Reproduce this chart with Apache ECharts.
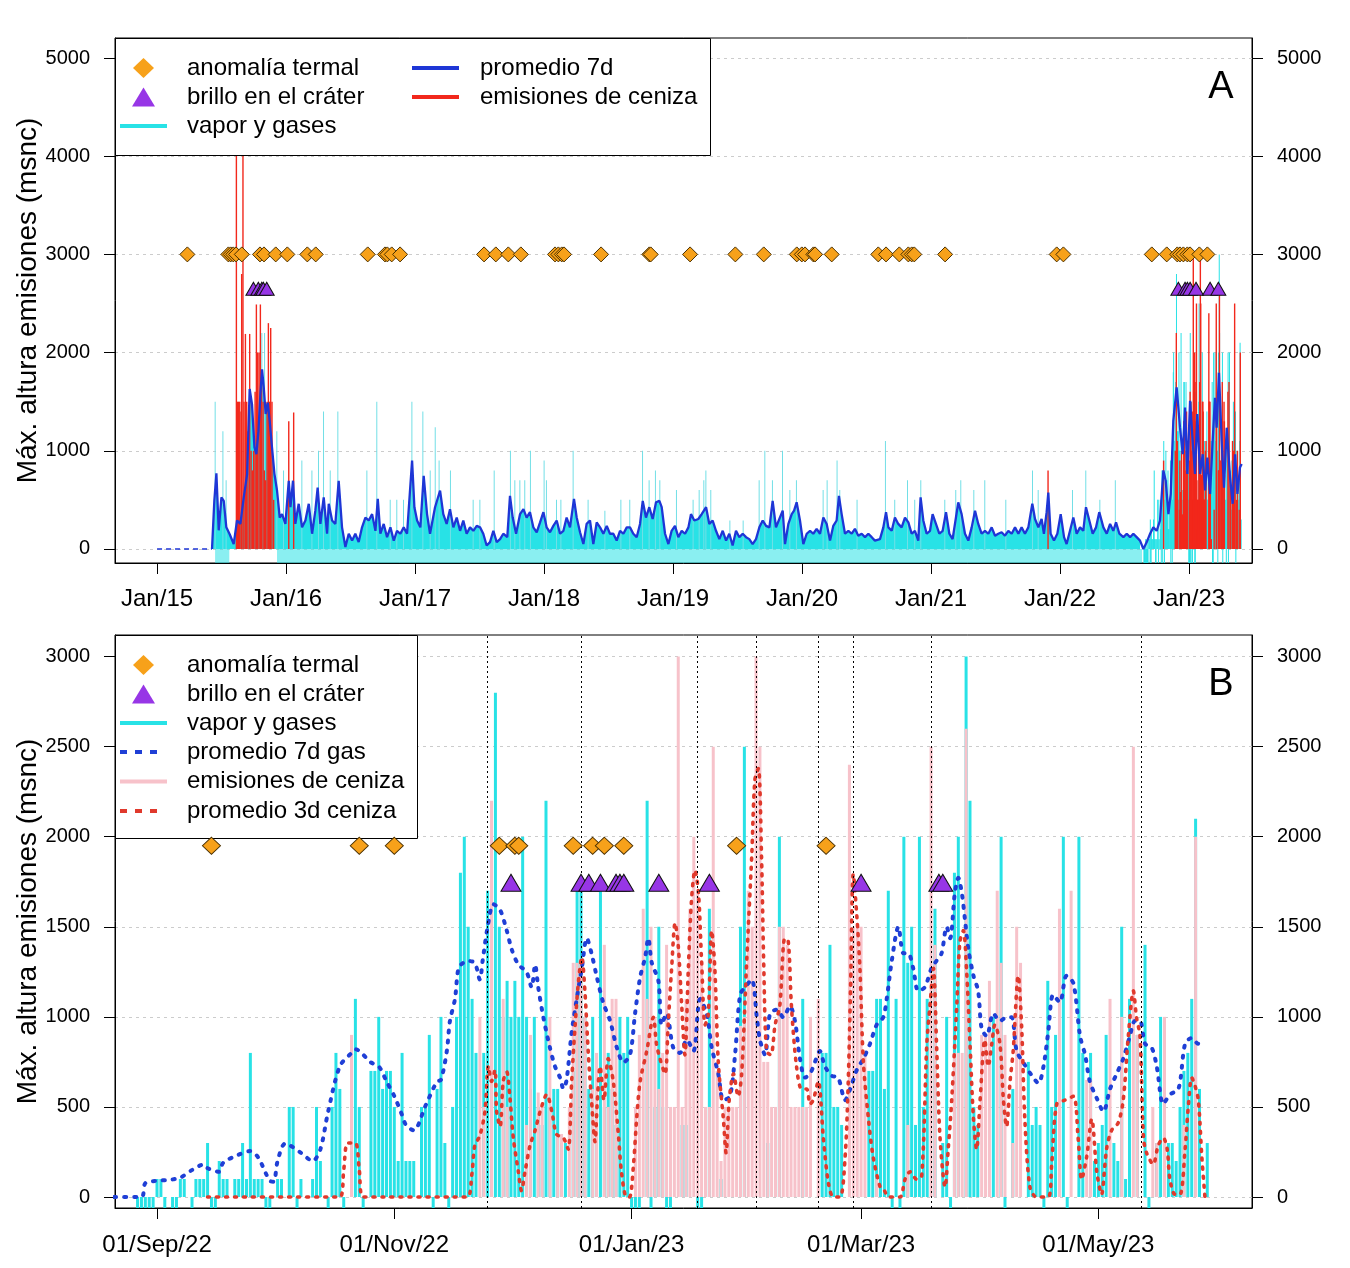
<!DOCTYPE html>
<html><head><meta charset="utf-8">
<script src="https://cdn.jsdelivr.net/npm/echarts@6/dist/echarts.min.js"></script>
<style>html,body{margin:0;padding:0;background:#fff}#c{width:1350px;height:1268px}</style>
</head><body><div id="c"></div>
<script>
// ================= Panel A data (x = decimal year) =================
const yearTicksA = [2015,2016,2017,2018,2019,2020,2021,2022,2023];
const yTicksA = [0,1000,2000,3000,4000,5000];
const quietA = [[2015.0,0],[2015.426,0]];
const avgA = [
[2015.426,0],[2015.444,490],[2015.460,770],[2015.478,190],[2015.499,525],[2015.517,490],[2015.537,220],[2015.563,150],[2015.594,50],[2015.620,290],[2015.646,255],[2015.672,525],[2015.698,760],[2015.718,1630],[2015.736,1475],[2015.755,1035],[2015.770,965],[2015.786,1200],[2015.801,1575],[2015.814,1830],[2015.827,1645],[2015.842,1375],[2015.858,1490],[2015.873,1305],[2015.891,1035],[2015.910,765],[2015.930,595],[2015.951,320],[2015.969,355],[2015.995,255],
[2016.021,695],[2016.034,425],[2016.054,695],[2016.072,255],[2016.098,460],[2016.124,220],[2016.150,290],[2016.176,460],[2016.202,155],[2016.227,390],[2016.245,625],[2016.266,255],[2016.292,525],[2016.318,155],[2016.331,460],[2016.357,290],[2016.382,255],[2016.408,695],[2016.434,220],[2016.460,20],[2016.486,155],[2016.512,85],[2016.537,155],[2016.563,70],[2016.589,220],[2016.615,320],[2016.641,290],[2016.667,355],[2016.693,185],[2016.711,510],[2016.731,155],[2016.757,255],[2016.783,120],[2016.809,220],[2016.835,85],[2016.860,185],[2016.886,155],[2016.912,220],[2016.938,155],[2016.959,560],[2016.977,900],[2016.995,425],
[2017.016,290],[2017.041,220],[2017.067,745],[2017.093,355],[2017.116,155],[2017.155,425],[2017.194,595],[2017.219,355],[2017.245,255],[2017.271,405],[2017.297,220],[2017.323,320],[2017.349,185],[2017.374,290],[2017.400,155],[2017.426,220],[2017.452,185],[2017.478,235],[2017.504,220],[2017.529,155],[2017.555,35],[2017.581,70],[2017.607,185],[2017.633,70],[2017.659,100],[2017.684,155],[2017.715,120],[2017.736,540],[2017.757,320],[2017.783,155],[2017.814,355],[2017.840,405],[2017.865,320],[2017.891,375],[2017.917,220],[2017.943,170],[2017.969,270],[2017.995,375],
[2018.020,220],[2018.046,170],[2018.072,235],[2018.098,290],[2018.124,155],[2018.150,185],[2018.175,320],[2018.201,220],[2018.232,510],[2018.253,320],[2018.279,170],[2018.305,50],[2018.330,255],[2018.356,290],[2018.382,50],[2018.408,270],[2018.434,220],[2018.460,155],[2018.486,235],[2018.511,155],[2018.537,155],[2018.563,85],[2018.589,185],[2018.615,155],[2018.641,220],[2018.666,220],[2018.692,155],[2018.718,120],[2018.744,255],[2018.765,490],[2018.790,320],[2018.816,425],[2018.842,305],[2018.868,475],[2018.894,490],[2018.912,425],[2018.938,155],[2018.964,50],[2018.989,185],
[2019.015,235],[2019.041,120],[2019.067,185],[2019.093,155],[2019.119,220],[2019.139,355],[2019.165,290],[2019.196,305],[2019.222,355],[2019.256,425],[2019.281,255],[2019.307,290],[2019.333,185],[2019.359,100],[2019.385,185],[2019.411,85],[2019.436,155],[2019.462,35],[2019.488,185],[2019.514,120],[2019.540,155],[2019.566,120],[2019.591,100],[2019.617,50],[2019.643,100],[2019.669,220],[2019.695,290],[2019.721,235],[2019.747,220],[2019.772,490],[2019.798,220],[2019.824,305],[2019.850,390],[2019.868,50],[2019.894,255],[2019.920,355],[2019.938,390],[2019.958,475],[2019.984,290],
[2020.010,50],[2020.036,155],[2020.062,185],[2020.087,155],[2020.113,205],[2020.139,155],[2020.165,320],[2020.191,255],[2020.217,85],[2020.242,235],[2020.268,290],[2020.286,540],[2020.307,355],[2020.333,155],[2020.359,185],[2020.385,155],[2020.410,205],[2020.436,135],[2020.462,155],[2020.488,120],[2020.514,155],[2020.540,120],[2020.565,85],[2020.604,100],[2020.630,220],[2020.651,375],[2020.669,220],[2020.695,185],[2020.720,320],[2020.746,255],[2020.772,220],[2020.798,320],[2020.824,270],[2020.850,155],[2020.875,185],[2020.901,85],[2020.919,525],[2020.940,290],[2020.966,155],[2020.992,185],
[2021.012,355],[2021.038,255],[2021.064,155],[2021.090,185],[2021.116,375],[2021.142,155],[2021.167,100],[2021.193,320],[2021.211,475],[2021.237,355],[2021.263,155],[2021.289,85],[2021.315,220],[2021.341,390],[2021.366,255],[2021.392,155],[2021.418,185],[2021.444,155],[2021.470,220],[2021.496,135],[2021.521,155],[2021.547,170],[2021.573,135],[2021.599,185],[2021.625,155],[2021.651,220],[2021.677,155],[2021.702,220],[2021.728,155],[2021.754,220],[2021.785,460],[2021.806,305],[2021.832,220],[2021.857,305],[2021.875,155],[2021.896,375],[2021.909,575],[2021.927,155],[2021.953,85],[2021.979,155],
[2022.005,355],[2022.031,120],[2022.051,50],[2022.077,185],[2022.103,320],[2022.129,155],[2022.155,220],[2022.180,185],[2022.201,425],[2022.227,290],[2022.253,155],[2022.279,220],[2022.304,375],[2022.336,220],[2022.362,155],[2022.388,255],[2022.413,185],[2022.434,270],[2022.460,155],[2022.491,120],[2022.517,155],[2022.543,120],[2022.568,155],[2022.594,120],[2022.620,85],[2022.646,0],[2022.672,70],[2022.698,155],[2022.723,220],[2022.749,185],[2022.775,290],[2022.801,800],[2022.819,695],[2022.840,355],[2022.858,560],[2022.878,1305],[2022.904,1645],[2022.930,1235],[2022.951,965],[2022.969,1440],[2022.987,765],
[2023.008,1510],[2023.028,1100],[2023.046,765],[2023.064,1375],[2023.085,765],[2023.106,965],[2023.124,595],[2023.142,930],[2023.163,560],[2023.183,1100],[2023.201,1540],[2023.214,1235],[2023.232,1795],[2023.253,1100],[2023.271,625],[2023.292,1235],[2023.318,730],[2023.338,460],[2023.357,965],[2023.375,560],[2023.395,830],[2023.408,865]
];
const gasSpikesA = [
[2015.452,1500],[2015.512,1200],[2015.537,700],[2015.814,2200],[2015.835,2200],[2015.930,1200],[2015.982,800],[2016.124,900],[2016.202,800],[2016.253,1000],[2016.292,1400],[2016.344,800],[2016.403,1400],[2016.628,800],[2016.705,1500],[2016.809,500],[2016.860,500],[2016.912,500],[2016.977,1500],[2017.062,1400],[2017.119,800],[2017.158,1240],[2017.188,900],[2017.276,800],[2017.452,500],[2017.504,500],[2017.615,800],[2017.741,1000],[2017.775,700],[2017.814,700],[2017.852,700],[2017.896,1000],[2018.002,900],[2018.020,700],[2018.098,500],[2018.132,500],[2018.227,1000],[2018.343,500],[2018.473,390],[2018.597,500],[2018.666,500],[2018.765,1000],[2018.816,700],[2018.865,800],[2018.899,700],[2019.028,600],[2019.157,500],[2019.204,600],[2019.240,700],[2019.256,800],[2019.294,600],[2019.442,290],[2019.545,290],[2019.669,700],[2019.713,1000],[2019.772,700],[2019.850,1000],[2019.907,600],[2019.958,700],[2020.165,600],[2020.196,700],[2020.273,900],[2020.294,600],[2020.428,500],[2020.648,1100],[2020.720,500],[2020.819,700],[2020.875,500],[2020.922,700],[2021.108,500],[2021.193,600],[2021.232,700],[2021.333,600],[2021.418,700],[2021.581,500],[2021.788,800],[2021.832,600],[2022.098,600],[2022.201,800],[2022.310,500],[2022.430,700]
];
const ashA = [
[2015.615,4600],[2015.625,1500],[2015.633,1500],[2015.641,1500],[2015.651,1400],[2015.656,2800],[2015.666,4600],[2015.674,1500],[2015.685,2190],[2015.695,1500],[2015.705,1200],[2015.718,2190],[2015.729,1000],[2015.739,800],[2015.749,1000],[2015.760,1600],[2015.770,2490],[2015.780,2000],[2015.791,2000],[2015.801,2490],[2015.811,1800],[2015.822,1500],[2015.832,800],[2015.842,700],[2015.853,1500],[2015.863,2300],[2015.873,1500],[2015.881,2250],[2015.891,1500],[2015.904,500],[2016.021,1300],[2016.059,1390],[2021.907,800]
];
const gapBandsA = [[2015.45,2015.56],[2015.93,2022.636]];
const thermalA = [2015.235,2015.553,2015.571,2015.591,2015.612,2015.657,2015.798,2015.829,2015.920,2016.010,2016.165,2016.230,2016.633,2016.767,2016.785,2016.819,2016.884,2017.535,2017.626,2017.723,2017.820,2018.085,2018.111,2018.137,2018.155,2018.442,2018.816,2018.827,2019.132,2019.483,2019.703,2019.959,2019.998,2020.023,2020.088,2020.101,2020.230,2020.591,2020.651,2020.754,2020.824,2020.850,2020.870,2021.109,2021.974,2022.026,2022.711,2022.827,2022.909,2022.930,2022.956,2022.987,2023.008,2023.080,2023.142];
const glowA = [2015.747,2015.785,2015.812,2015.824,2015.850,2022.917,2022.969,2022.987,2023.008,2023.054,2023.163,2023.227];

// ================= Panel B data (x = days since 01/Sep/22) =================
const monthTicksB = [0,61,122,181,242];
const monthLabelsB = ['01/Sep/22','01/Nov/22','01/Jan/23','01/Mar/23','01/May/23'];
const yTicksB = [0,500,1000,1500,2000,2500,3000];
const firstDayB = -11;   // 21/Aug/22; -200 = no observation
const gasB = [
0,0,0,0,0,0,-200,-200,-200,-200,
-200,100,100,-200,0,-200,-200,100,100,0,
-200,100,100,100,300,-200,-200,200,100,100,
0,100,100,300,100,800,100,100,100,-200,
-200,0,100,100,0,500,500,-200,100,0,
0,100,500,200,0,-200,500,800,600,-200,
0,0,1100,500,-200,0,700,700,1000,600,
700,700,500,200,800,200,200,200,0,500,
500,900,-200,600,1000,300,-200,500,1000,1800,
2000,1500,1100,800,0,800,1700,1000,2800,1500,
1000,1200,1000,1200,1000,2000,1000,600,1000,500,
400,2200,500,600,600,300,300,0,700,1700,
1700,1000,600,1000,500,1700,500,800,600,400,
1000,800,1000,-200,-200,-200,0,2200,-200,500,
1500,500,-200,-200,0,0,400,400,0,0,
-200,-200,0,1600,0,0,100,0,0,0,
0,1500,2500,0,0,0,0,0,300,0,
0,2000,0,0,0,0,0,1100,0,0,
0,0,800,800,1400,500,500,400,0,0,
0,0,0,0,700,700,1100,1100,600,1700,
-200,1100,-200,2000,1300,1500,400,2000,500,1100,
0,1600,0,300,1000,-200,1800,2000,0,3000,
2200,500,400,0,0,0,1000,0,2000,-200,
0,600,0,0,0,750,400,500,400,-200,
1200,500,900,0,2000,-200,0,0,2000,800,
0,800,200,300,400,900,0,300,200,1500,
100,1100,0,900,0,1400,-200,0,300,1000,
0,300,300,200,500,700,800,1100,2100,600,
0,300
];
const ashB = [
0,0,0,0,0,0,0,0,0,0,
0,0,0,0,0,0,0,0,0,0,
0,0,0,0,0,0,0,0,0,0,
0,0,0,0,0,0,0,0,0,0,
0,0,0,0,0,0,0,0,0,0,
0,0,0,0,0,0,0,0,0,0,
0,900,0,0,0,0,0,0,0,0,
0,0,0,0,0,0,0,0,0,0,
0,0,0,0,0,0,0,0,0,0,
0,0,0,0,1000,500,0,2200,0,0,
1100,500,0,0,0,0,400,900,0,580,
500,0,1000,0,350,350,0,500,1300,1300,
1300,1000,0,600,800,0,1400,500,1100,1100,
0,0,0,0,500,900,1600,1100,1500,1000,
600,800,1400,500,500,3000,500,1100,1600,2000,
1700,1300,500,500,2500,700,200,500,500,500,
500,950,1000,1700,1500,3000,2500,750,750,500,
500,1500,1500,1400,500,500,500,500,500,1000,
0,1100,0,0,0,0,0,0,0,2400,
1500,1500,1500,800,0,0,100,0,0,0,
0,0,0,0,400,0,0,0,0,0,
2500,1400,0,0,0,0,800,800,800,2600,
0,0,0,900,900,1200,0,1700,1300,900,
0,300,1500,1300,0,0,0,0,0,0,
0,0,0,1600,0,0,1700,0,0,0,
650,650,0,0,0,0,1100,0,0,1000,
0,0,2500,900,0,0,0,500,300,0,
1000,0,0,0,0,400,0,0,2000,0,
0,0
];
const avg7B = [
[-11,0],[-4,0],[-3,77],[0,90],[3,95],[6,108],[9,150],[12,180],[13,160],[16,140],[17,190],[21,235],[24,255],[26,220],[29,90],[30,85],[31,200],[33,297],[37,245],[40,200],[42,265],[44,475],[47,726],[50,800],[51,820],[55,747],[57,726],[59,642],[61,560],[63,455],[64,400],[66,370],[69,506],[72,642],[73,650],[74.5,810],[75.3,977],[76.6,1100],[77.5,1270],[78.7,1300],[80,1310],[81.7,1300],[83,1207],[83.7,1310],[85,1500],[86.5,1625],[88.2,1594],[89.9,1480],[91.2,1374],[92.9,1290],[95,1250],[96.3,1165],[97.2,1290],[98,1165],[99.3,1000],[101,830],[102.3,726],[103.6,663],[104.5,600],[105.3,650],[106.6,914],[107.9,1100],[109.2,1270],[110.5,1437],[111.7,1353],[113,1228],[114.7,1080],[116.5,977],[118.2,830],[119.9,747],[121.6,789],[122.9,1019],[124.2,1220],[125.5,1332],[126.3,1437],[127.2,1300],[128.9,1200],[129.7,956],[131,1019],[132.7,830],[134.4,800],[136.2,872],[137.9,810],[139.6,1100],[141.3,1019],[142.6,830],[144.3,684],[145.6,538],[147.3,560],[148.6,789],[149.9,1123],[151.2,1165],[152.9,1207],[154.2,998],[155,872],[156.3,789],[157.6,1019],[159.3,1040],[161,998],[162.7,1060],[164,977],[165.3,768],[166.6,663],[167.9,684],[169.1,747],[170.4,810],[171.7,726],[173.4,674],[175.1,663],[176.9,538],[178.2,600],[179.9,705],[181.6,768],[183.3,851],[185,956],[186.7,998],[187.6,1102],[188.9,1312],[190.6,1500],[191.9,1353],[193.1,1353],[194.4,1270],[195.7,1144],[197.4,1165],[199.1,1270],[200.4,1312],[201.7,1353],[203,1500],[203.9,1437],[205.1,1688],[206,1772],[206.9,1688],[207.7,1542],[208.6,1374],[209.9,1228],[211.1,1144],[212,935],[213.3,893],[215,1019],[216.7,977],[218.4,998],[219.7,998],[221,810],[222.7,747],[224.9,674],[226.6,632],[227.9,726],[229.1,914],[230.4,1123],[232.1,1081],[233.8,1228],[235.6,1186],[237.3,893],[238.6,789],[239.8,642],[241.6,548],[243.3,475],[245,600],[246.7,684],[248.4,768],[250.1,893],[251.4,977],[252.7,977],[254,851],[255.7,830],[257,726],[258.7,516],[260.4,569],[262.6,600],[264.3,851],[266,883],[267.7,851],[269.4,872]
];
const avg3B = [
[13,0],[47,0],[48,150],[49,300],[51,300],[52,150],[53,0],[79.6,0],[80.9,120],[81.7,287],[83,340],[84.3,475],[85.2,726],[86,642],[86.9,705],[87.3,475],[88.2,391],[89,642],[89.9,695],[90.7,559],[91.6,328],[92.9,140],[93.7,35],[94.6,140],[95.9,287],[97.2,370],[98.5,475],[100.2,569],[101.5,475],[102.7,349],[104.5,328],[105.7,265],[106.6,642],[107.5,956],[108.3,1186],[109.2,1332],[110,1144],[110.9,789],[111.7,538],[112.6,307],[113.2,538],[113.9,726],[114.9,538],[116,768],[117.3,642],[118.6,349],[119.4,140],[120.7,0],[121.5,0],[122.5,182],[123.3,433],[124.2,642],[125.9,810],[127.6,998],[128.4,851],[129.3,768],[130.6,684],[131.4,956],[132.3,1270],[133.2,1521],[134,1395],[134.9,1060],[135.7,789],[136.6,1270],[137.4,1646],[138.3,1814],[139.2,1688],[140,1312],[140.9,956],[141.7,1010],[142.6,1479],[143.4,1270],[144.3,747],[145.6,433],[146.3,245],[147.1,538],[148.2,684],[149.4,559],[150.3,684],[151.6,1312],[152.9,1897],[153.7,2316],[154.6,2379],[155.4,1897],[156,1270],[156.7,810],[157.8,789],[158.9,956],[160.1,1060],[161.4,1437],[162.3,1416],[163.1,1060],[164.4,726],[165.7,600],[167,600],[167.9,516],[168.7,538],[170,642],[171.3,328],[172.6,77],[173.9,0],[175.6,0],[176.9,224],[177.7,642],[178.3,1165],[179,1793],[179.9,1563],[180.7,1270],[181.6,747],[182.9,433],[184.1,224],[185.9,56],[187,35],[188,0],[191,0],[192.3,98],[193.6,140],[195.3,98],[196.6,120],[197.9,851],[198.7,1060],[199.6,1270],[200.4,851],[201.3,328],[202.6,56],[203.4,265],[204.3,538],[205.6,1060],[206.4,1416],[207.3,1479],[208.1,1270],[209,851],[209.9,433],[210.7,265],[211.6,538],[212.8,872],[213.7,726],[214.6,851],[215.4,956],[216.7,851],[217.6,538],[218.4,391],[219.3,642],[220.1,810],[221.4,1228],[222.3,935],[223.1,433],[224.4,56],[226.1,0],[229.1,0],[230,182],[231.3,516],[233.4,538],[235.6,559],[236.8,328],[237.7,98],[239,224],[240.3,433],[241.6,140],[242.8,15],[244.1,265],[245.4,370],[247.1,412],[248.4,538],[249.7,893],[251,1144],[251.8,998],[252.7,893],[253.6,328],[254.4,245],[256.1,182],[257.4,287],[258.7,328],[259.7,265],[260.4,98],[261.7,15],[263,15],[264.3,265],[265.1,496],[266,663],[266.8,621],[267.7,538],[268.6,224],[269.4,0]
];
const thermalB = [14,52,61,88,92,93,107,112,115,120,149,172];
const glowB = [91,109,111,114,118,119,120,129,142,181,201,202];
const eventDaysB = [85,109,139,154,170,179,199,253];

// ================= styling / helpers =================
const FONT = '"Liberation Sans", Arial, Helvetica, sans-serif';
const CYAN = '#28e2e6', CYAN_THIN = '#72dfe6', BLUE = '#1e36d6', RED = '#f2281c', PINK = '#f7c2ca';
const BLUE_DOT = '#1f3fd6', RED_DOT = '#e0392c', ORANGE = '#f7a11a', PURPLE = '#9736e6';
const THERMAL_Y_A = 3000, GLOW_Y_A = 2650, THERMAL_Y_B = 1950, GLOW_Y_B = 1745;
const dayToYear = d => 2022 + (243 + d) / 365;
const daily = arr => arr.map((v, i) => [firstDayB + i, v]);
const gasDailyB = daily(gasB).filter(p => p[1] !== 0);
const ashDailyB = daily(ashB).filter(p => p[1] !== 0);
const gasLateA = gasDailyB.map(p => [dayToYear(p[0]), p[1]]);
const ashLateA = ashDailyB.map(p => [dayToYear(p[0]), p[1]]);
const fillA = avgA.filter(p => p[0] < dayToYear(firstDayB));
const bandA = [];
gapBandsA.forEach(([a, b]) => { bandA.push([a, -200], [b, -200], [b, '-']); });

const tickY = {color: '#000', fontSize: 20, fontFamily: FONT};
const tickX = {color: '#000', fontSize: 24, fontFamily: FONT};
const gridLine = {show: true, lineStyle: {color: '#cccccc', type: [3, 4], width: 1}};
function yAx(grid, pos, min, max, ticks, withName) {
  const o = {type: 'value', gridIndex: grid, position: pos, min: min, max: max,
    axisLine: {show: true, onZero: false, lineStyle: {color: '#000'}},
    axisTick: {show: true, length: 11, customValues: ticks, lineStyle: {color: '#000'}},
    axisLabel: Object.assign({customValues: ticks, margin: 25, formatter: v => String(v)}, tickY),
    splitLine: pos === 'left' ? gridLine : {show: false}};
  if (withName) {
    Object.assign(o, {name: 'Máx. altura emisiones (msnc)', nameLocation: 'middle', nameGap: 73, nameRotate: 90,
      nameMoveOverlap: false,
      nameTextStyle: {fontSize: 28, color: '#000', fontFamily: FONT}});
  }
  return o;
}
const LINE_ICON = 'path://M0,0H47V4H0Z';
const DOT_ICON = 'path://M0,0h7v4h-7z M15,0h7v4h-7z M30,0h7v4h-7z';
// one legend component per row, so every row can be placed like the reference
function row(iconLeft, rowCenter, name, icon, color, w, h, textStart) {
  return {left: iconLeft, top: rowCenter - 12, orient: 'vertical', itemWidth: w, itemHeight: h, padding: 0,
    selectedMode: false, z: 10,
    textStyle: {fontSize: 24, color: '#000', fontFamily: FONT, padding: [0, 0, 0, textStart - iconLeft - w - 5]},
    data: [{name: name, icon: icon, itemStyle: {color: color, borderWidth: 0, opacity: 1}}]};
}
const legends = [
  // panel A
  row(133, 68, 'anomalía termal', 'diamond', ORANGE, 21, 20, 187),
  row(132, 97, 'brillo en el cráter', 'triangle', PURPLE, 23, 19, 187),
  row(120, 126, 'vapor y gases', LINE_ICON, CYAN, 47, 4, 187),
  row(412, 68, 'promedio 7d', LINE_ICON, BLUE, 47, 4, 480),
  row(412, 97, 'emisiones de ceniza', LINE_ICON, RED, 47, 4, 480),
  // panel B
  row(133, 665, 'anomalía termal', 'diamond', ORANGE, 21, 20, 187),
  row(132, 694, 'brillo en el cráter', 'triangle', PURPLE, 23, 19, 187),
  row(120, 723, 'vapor y gases', LINE_ICON, CYAN, 47, 4, 187),
  row(120, 752, 'promedio 7d gas', DOT_ICON, BLUE_DOT, 37, 4, 187),
  row(120, 781.5, 'emisiones de ceniza', LINE_ICON, PINK, 47, 4, 187),
  row(120, 811, 'promedio 3d ceniza', DOT_ICON, RED_DOT, 37, 4, 187)
];
const diamondStyle = {color: ORANGE, borderColor: '#4a3000', borderWidth: 1, opacity: 1};
const triStyle = {color: PURPLE, borderColor: '#111', borderWidth: 1, opacity: 1};

const chart = echarts.init(document.getElementById('c'));
chart.setOption({
  animation: false,
  backgroundColor: '#fff',
  grid: [
    {left: 115, top: 38, width: 1137, height: 525, show: true, borderColor: '#000', borderWidth: 1, backgroundColor: 'transparent'},
    {left: 115, top: 635, width: 1137, height: 573, show: true, borderColor: '#000', borderWidth: 1, backgroundColor: 'transparent'}
  ],
  xAxis: [
    {type: 'value', gridIndex: 0, min: 2014.674, max: 2023.488,
     axisLine: {show: true, onZero: false, lineStyle: {color: '#000'}},
     axisTick: {show: true, length: 11, customValues: yearTicksA, lineStyle: {color: '#000'}},
     axisLabel: Object.assign({customValues: yearTicksA, margin: 24, formatter: v => 'Jan/' + String(v).slice(2)}, tickX),
     splitLine: {show: false}},
    {type: 'value', gridIndex: 1, min: -10.8, max: 281.5,
     axisLine: {show: true, onZero: false, lineStyle: {color: '#000'}},
     axisTick: {show: true, length: 11, customValues: monthTicksB, lineStyle: {color: '#000'}},
     axisLabel: Object.assign({customValues: monthTicksB, margin: 25, formatter: v => monthLabelsB[monthTicksB.indexOf(v)] || ''}, tickX),
     splitLine: {show: false}}
  ],
  yAxis: [
    yAx(0, 'left', -143, 5204, yTicksA, true),
    yAx(0, 'right', -143, 5204, yTicksA, false),
    yAx(1, 'left', -61, 3120, yTicksB, true),
    yAx(1, 'right', -61, 3120, yTicksB, false)
  ],
  legend: legends,
  graphic: {elements: [
    {type: 'rect', z: 5, shape: {x: 115.5, y: 38.5, width: 595, height: 117}, style: {fill: '#fff', stroke: '#000', lineWidth: 1}},
    {type: 'rect', z: 5, shape: {x: 115.5, y: 635.5, width: 302, height: 203}, style: {fill: '#fff', stroke: '#000', lineWidth: 1}},
    {type: 'text', z: 6, x: 1221, y: 88, style: {text: 'A', fontSize: 38, fontFamily: FONT, fill: '#000', textAlign: 'center', textVerticalAlign: 'middle'}},
    {type: 'text', z: 6, x: 1221, y: 685, style: {text: 'B', fontSize: 38, fontFamily: FONT, fill: '#000', textAlign: 'center', textVerticalAlign: 'middle'}}
  ]},
  series: [
    // ---------- Panel A ----------
    {type: 'line', name: '_bandA', xAxisIndex: 0, yAxisIndex: 0, data: bandA, symbol: 'none', silent: true,
     lineStyle: {width: 0}, areaStyle: {color: 'rgba(40,226,230,0.78)'}, z: 1},
    {type: 'line', name: '_fillA', xAxisIndex: 0, yAxisIndex: 0, data: fillA, symbol: 'none', silent: true,
     lineStyle: {width: 0}, areaStyle: {color: CYAN, opacity: 1}, z: 1},
    {type: 'bar', name: 'vapor y gases', xAxisIndex: 0, yAxisIndex: 0, data: gasSpikesA, barWidth: 1, barGap: '-100%', itemStyle: {color: CYAN_THIN}},
    {type: 'bar', name: '_gasLateA', xAxisIndex: 0, yAxisIndex: 0, data: gasLateA, barWidth: 1, barGap: '-100%', itemStyle: {color: CYAN}},
    {type: 'bar', name: 'emisiones de ceniza', xAxisIndex: 0, yAxisIndex: 0, data: ashA.concat(ashLateA), barWidth: 1.4, barGap: '-100%', itemStyle: {color: RED}},
    {type: 'line', name: 'promedio 7d', xAxisIndex: 0, yAxisIndex: 0, data: avgA, symbol: 'none', lineStyle: {color: BLUE, width: 2.3}, z: 4},
    {type: 'line', name: '_quietA', xAxisIndex: 0, yAxisIndex: 0, data: quietA, symbol: 'none', lineStyle: {color: BLUE, width: 1.5, type: [5, 4]}, z: 4},
    {type: 'scatter', name: 'anomalía termal', xAxisIndex: 0, yAxisIndex: 0, data: thermalA.map(t => [t, THERMAL_Y_A]),
     symbol: 'diamond', symbolSize: 15, itemStyle: diamondStyle, z: 6},
    {type: 'scatter', name: 'brillo en el cráter', xAxisIndex: 0, yAxisIndex: 0, data: glowA.map(t => [t, GLOW_Y_A]),
     symbol: 'triangle', symbolSize: [15, 13], itemStyle: triStyle, z: 6},
    // ---------- Panel B ----------
    {type: 'bar', name: 'vapor y gases', xAxisIndex: 1, yAxisIndex: 2, data: gasDailyB, barWidth: 3, barGap: '-100%', itemStyle: {color: CYAN}},
    {type: 'bar', name: 'emisiones de ceniza', xAxisIndex: 1, yAxisIndex: 2, data: ashDailyB, barWidth: 3, barGap: '-100%', itemStyle: {color: PINK}},
    {type: 'line', name: 'promedio 7d gas', xAxisIndex: 1, yAxisIndex: 2, data: avg7B, smooth: 0.3, symbol: 'none',
     lineStyle: {color: BLUE_DOT, width: 4, type: [2, 8], cap: 'round'}, z: 4},
    {type: 'line', name: 'promedio 3d ceniza', xAxisIndex: 1, yAxisIndex: 2, data: avg3B, smooth: 0.3, symbol: 'none',
     lineStyle: {color: RED_DOT, width: 3.6, type: [2, 7], cap: 'round'}, z: 4,
     markLine: {silent: true, symbol: ['none', 'none'], label: {show: false}, animation: false,
       lineStyle: {color: '#000', type: [2, 3], width: 1}, data: eventDaysB.map(d => ({xAxis: d}))}},
    {type: 'scatter', name: 'anomalía termal', xAxisIndex: 1, yAxisIndex: 2, data: thermalB.map(d => [d, THERMAL_Y_B]),
     symbol: 'diamond', symbolSize: [18, 17], itemStyle: diamondStyle, z: 6},
    {type: 'scatter', name: 'brillo en el cráter', xAxisIndex: 1, yAxisIndex: 2, data: glowB.map(d => [d, GLOW_Y_B]),
     symbol: 'triangle', symbolSize: [20, 17], itemStyle: triStyle, z: 6}
  ]
});
</script></body></html>
